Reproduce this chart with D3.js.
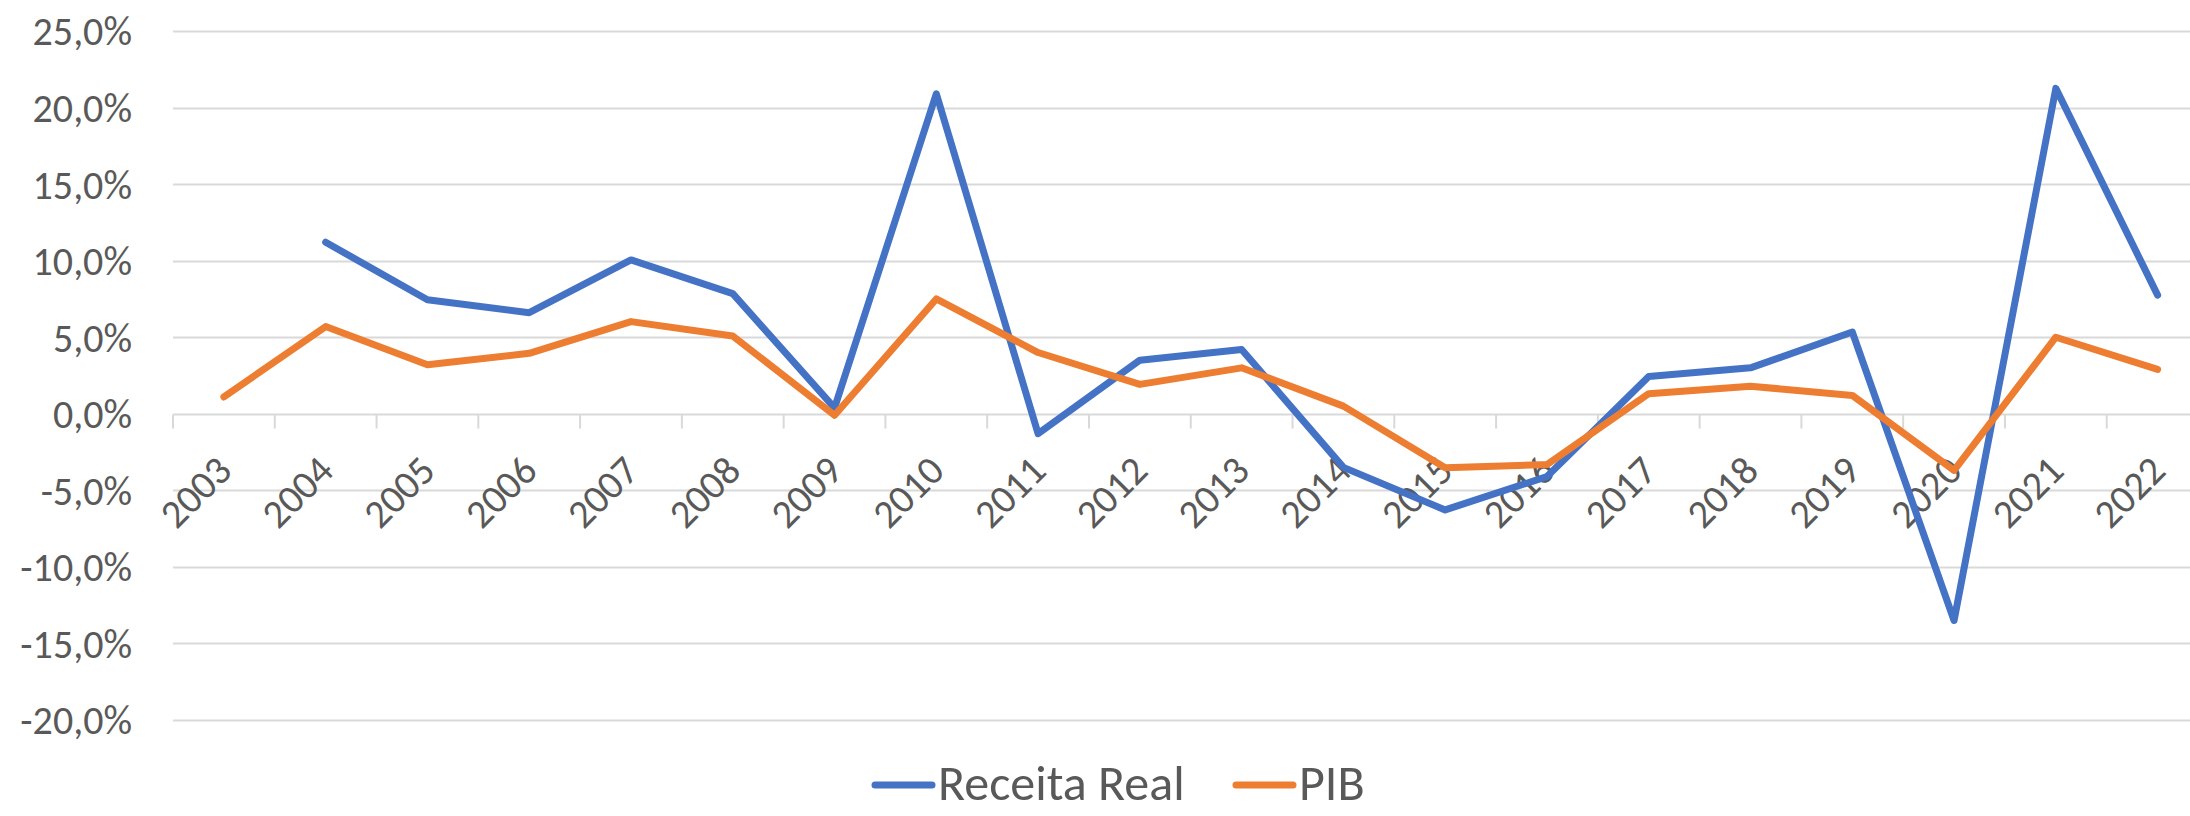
<!DOCTYPE html>
<html>
<head>
<meta charset="utf-8">
<script src="https://cdn.jsdelivr.net/npm/d3@7"></script>
<style>
  html, body { margin: 0; padding: 0; background: #fff; }
  svg text { font-family: Carlito, Calibri, Lato, sans-serif; fill: #595959; }
</style>
</head>
<body>
<div id="chart"></div>
<script>
// categories and series (annual % change)
const anos = ['2003','2004','2005','2006','2007','2008','2009','2010','2011','2012',
              '2013','2014','2015','2016','2017','2018','2019','2020','2021','2022'];
const receitaReal = [null, 11.2, 7.45, 6.6, 10.05, 7.85, 0.39, 20.9, -1.3, 3.5,
                     4.2, -3.5, -6.28, -4.1, 2.44, 3.0, 5.34, -13.5, 21.25, 7.75];
const pib = [1.1, 5.7, 3.2, 3.95, 6.02, 5.08, -0.1, 7.5, 4.0, 1.92,
             3.0, 0.5, -3.53, -3.32, 1.31, 1.8, 1.2, -3.7, 5.0, 2.9];
const yTicks = [25, 20, 15, 10, 5, 0, -5, -10, -15, -20];
const series = [
    { name: 'Receita Real', values: receitaReal, color: '#4472C4' },
    { name: 'PIB', values: pib, color: '#ED7D31' }
];

const width = 2190;
const height = 816;
const plot = { left: 173, right: 2208.5, top: 31, bottom: 720 };

const svg = d3.select('#chart')
    .append('svg')
    .attr('width', width)
    .attr('height', height);

const x = d3.scaleBand()
    .domain(anos)
    .range([plot.left, plot.right]);

const y = d3.scaleLinear()
    .domain([-20, 25])
    .range([plot.bottom, plot.top]);

const fmt = v => d3.format('.1f')(v).replace('.', ',').replace('−', '-') + '%';

// horizontal gridlines
svg.append('g')
    .selectAll('line')
    .data(yTicks)
    .join('line')
    .attr('x1', plot.left)
    .attr('x2', plot.right)
    .attr('y1', d => Math.round(y(d)) + 0.5)
    .attr('y2', d => Math.round(y(d)) + 0.5)
    .attr('stroke', '#d9d9d9')
    .attr('stroke-width', 2);

// y labels
svg.append('g')
    .selectAll('text')
    .data(yTicks)
    .join('text')
    .attr('x', 132)
    .attr('y', d => y(d))
    .attr('dy', '0.36em')
    .attr('text-anchor', 'end')
    .style('font-size', '40px')
    .text(fmt);

// category axis on zero line, ticks at band edges
const xAxis = d3.axisBottom(x).tickSize(0).tickFormat('');
const axisG = svg.append('g')
    .attr('transform', `translate(0,${Math.round(y(0)) + 0.5})`)
    .call(xAxis);
axisG.select('.domain').remove();

const edges = anos.map(a => x(a)).concat([x(anos[anos.length - 1]) + x.bandwidth()]);
axisG.selectAll('line.edge')
    .data(edges)
    .join('line')
    .attr('class', 'edge')
    .attr('x1', d => d)
    .attr('x2', d => d)
    .attr('y1', 0)
    .attr('y2', 14)
    .attr('stroke', '#d9d9d9')
    .attr('stroke-width', 2);

// rotated year labels
svg.append('g')
    .selectAll('text')
    .data(anos)
    .join('text')
    .attr('transform', d => `translate(${x(d) + x.bandwidth() / 2 + 10},473) rotate(-45)`)
    .attr('text-anchor', 'end')
    .style('font-size', '40px')
    .text(d => d);

// lines
const line = d3.line()
    .defined(d => d.v !== null)
    .x(d => x(d.ano) + x.bandwidth() / 2)
    .y(d => y(d.v));

series.forEach(s => {
    svg.append('path')
        .datum(anos.map((a, i) => ({ ano: a, v: s.values[i] })))
        .attr('fill', 'none')
        .attr('stroke', s.color)
        .attr('stroke-width', 7)
        .attr('stroke-linejoin', 'round')
        .attr('stroke-linecap', 'round')
        .attr('d', line);
});

// legend
const legend = svg.append('g');
const legendItems = [
    { s: series[0], x0: 875 },
    { s: series[1], x0: 1236 }
];
legendItems.forEach(item => {
    legend.append('line')
        .attr('x1', item.x0)
        .attr('x2', item.x0 + 57)
        .attr('y1', 785)
        .attr('y2', 785)
        .attr('stroke', item.s.color)
        .attr('stroke-width', 7)
        .attr('stroke-linecap', 'round');
    legend.append('text')
        .attr('x', item.x0 + 63)
        .attr('y', 800)
        .style('font-size', '50px')
        .text(item.s.name);
});
</script>
</body>
</html>
